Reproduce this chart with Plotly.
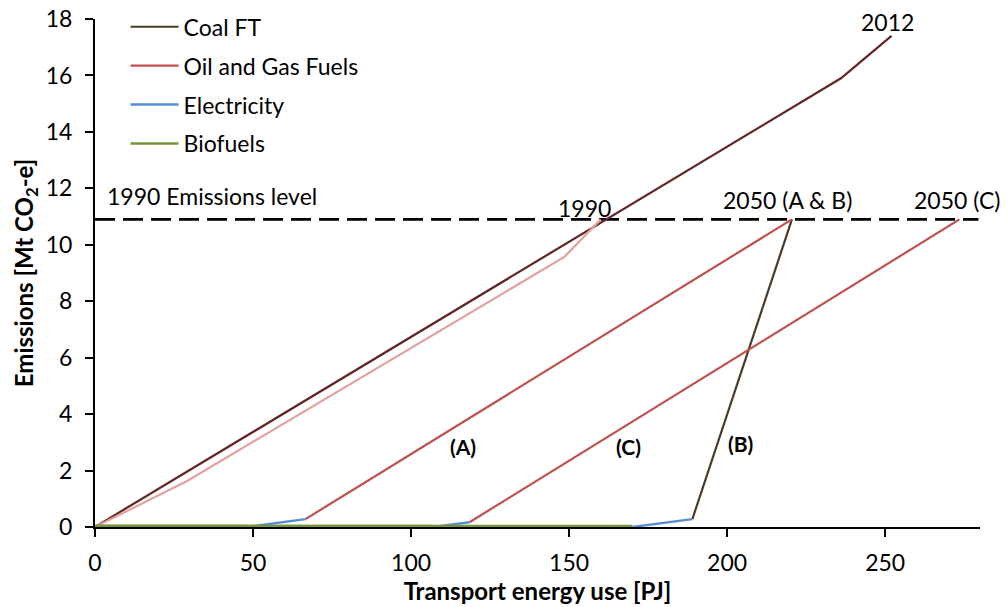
import plotly.graph_objects as go

# Cumulative transport energy use [PJ] vs cumulative emissions [Mt CO2-e]
# Historic trajectory (total) up to 2012
hist_total_x = [0, 162, 236, 252]
hist_total_y = [0, 10.9, 15.9, 17.4]
# Historic trajectory (oil & gas share) up to 1990
hist_oil_x = [0, 29, 148.5, 160]
hist_oil_y = [0, 1.62, 9.57, 10.9]

# Scenario segments (None breaks the line between scenarios)
bio_x = [0, 48, None, 0, 107, None, 0, 170]
bio_y = [0, 0, None, 0, 0, None, 0, 0]
elec_x = [48, 66.6, None, 107, 118.5, None, 170, 189]
elec_y = [0, 0.28, None, 0, 0.17, None, 0, 0.28]
oil_x = [66.6, 220.5, None, 118.5, 273.5]
oil_y = [0.28, 10.9, None, 0.17, 10.9]
coal_x = [189, 220.5]
coal_y = [0.28, 10.9]

level_1990 = 10.9

FONT = "Lato"
FS = 23
C_COAL = "#4a3d28"
C_OIL = "#c0504d"
C_ELEC = "#558ed5"
C_BIO = "#77933c"
C_TOTAL = "#632523"
C_HIST_OIL = "#e3a19f"

fig = go.Figure()

fig.add_trace(go.Scatter(x=[0, 279.5], y=[level_1990, level_1990], mode="lines",
                         line=dict(color="black", width=2.8, dash="20px,8px"),
                         showlegend=False, hoverinfo="skip"))
fig.add_trace(go.Scatter(x=hist_total_x, y=hist_total_y, mode="lines",
                         line=dict(color=C_TOTAL, width=2.2), showlegend=False))
fig.add_trace(go.Scatter(x=hist_oil_x, y=hist_oil_y, mode="lines",
                         line=dict(color=C_HIST_OIL, width=2.2), showlegend=False))

fig.add_trace(go.Scatter(x=coal_x, y=coal_y, mode="lines", name="Coal FT",
                         legendgroup="g1", legendrank=1,
                         line=dict(color=C_COAL, width=2.2)))
fig.add_trace(go.Scatter(x=oil_x, y=oil_y, mode="lines", name="Oil and Gas Fuels",
                         legendgroup="g2", legendrank=2, connectgaps=False,
                         line=dict(color=C_OIL, width=2.2)))
fig.add_trace(go.Scatter(x=elec_x, y=elec_y, mode="lines", name="Electricity",
                         legendgroup="g3", legendrank=3, connectgaps=False,
                         line=dict(color=C_ELEC, width=2.4)))
# Biofuels run along the x-axis; the thick line is half hidden by the plot edge,
# so the legend entry uses a normal-width line
fig.add_trace(go.Scatter(x=bio_x, y=bio_y, mode="lines", name="Biofuels",
                         legendgroup="g4", showlegend=False, connectgaps=False,
                         line=dict(color=C_BIO, width=4.5)))
fig.add_trace(go.Scatter(x=[None], y=[None], mode="lines", name="Biofuels",
                         legendgroup="g4", legendrank=4,
                         line=dict(color=C_BIO, width=2.4)))

notes = [
    ("1990 Emissions level", 3.1, 11.72, "left", False),
    ("1990", 155, 11.3, "center", False),
    ("2050 (A & B)", 219, 11.6, "center", False),
    ("2050 (C)", 272.7, 11.6, "center", False),
    ("2012", 250.8, 17.9, "center", False),
    ("(A)", 116.5, 2.85, "center", True),
    ("(C)", 168.8, 2.85, "center", True),
    ("(B)", 204.1, 2.95, "center", True),
]
for txt, xx, yy, anc, bold in notes:
    fig.add_annotation(x=xx, y=yy, xref="x", yref="y", text=f"<b>{txt}</b>" if bold else txt,
                       showarrow=False, xanchor=anc, yanchor="middle",
                       font=dict(family=FONT, size=FS if not bold else 21, color="black"))

axis_common = dict(showgrid=False, zeroline=False, showline=True, linecolor="black",
                   linewidth=2, ticks="outside", ticklen=8, tickwidth=2, tickcolor="black",
                   tickfont=dict(family=FONT, size=FS, color="black"), layer="below traces")

fig.update_layout(
    width=1008, height=607,
    margin=dict(l=95, r=28, t=19, b=80, autoexpand=False),
    paper_bgcolor="white", plot_bgcolor="white",
    font=dict(family=FONT, color="black"),
    xaxis=dict(range=[0, 280], tickvals=[0, 50, 100, 150, 200, 250],
               ticklabelstandoff=6,
               title=dict(text="<b>Transport energy use [PJ]</b>", font=dict(family=FONT, size=24),
                          standoff=4),
               **axis_common),
    yaxis=dict(range=[0, 18], dtick=2,
               ticklabelstandoff=8,
               title=dict(text="<b>Emissions [Mt CO<sub>2</sub>-e]</b>", font=dict(family=FONT, size=24),
                          standoff=5),
               **axis_common),
    legend=dict(x=0.0345, y=1.027, xanchor="left", yanchor="top", bgcolor="rgba(0,0,0,0)",
                font=dict(family=FONT, size=FS, color="black"), traceorder="grouped",
                tracegroupgap=6, itemwidth=48),
)

fig.write_html("out.html")
